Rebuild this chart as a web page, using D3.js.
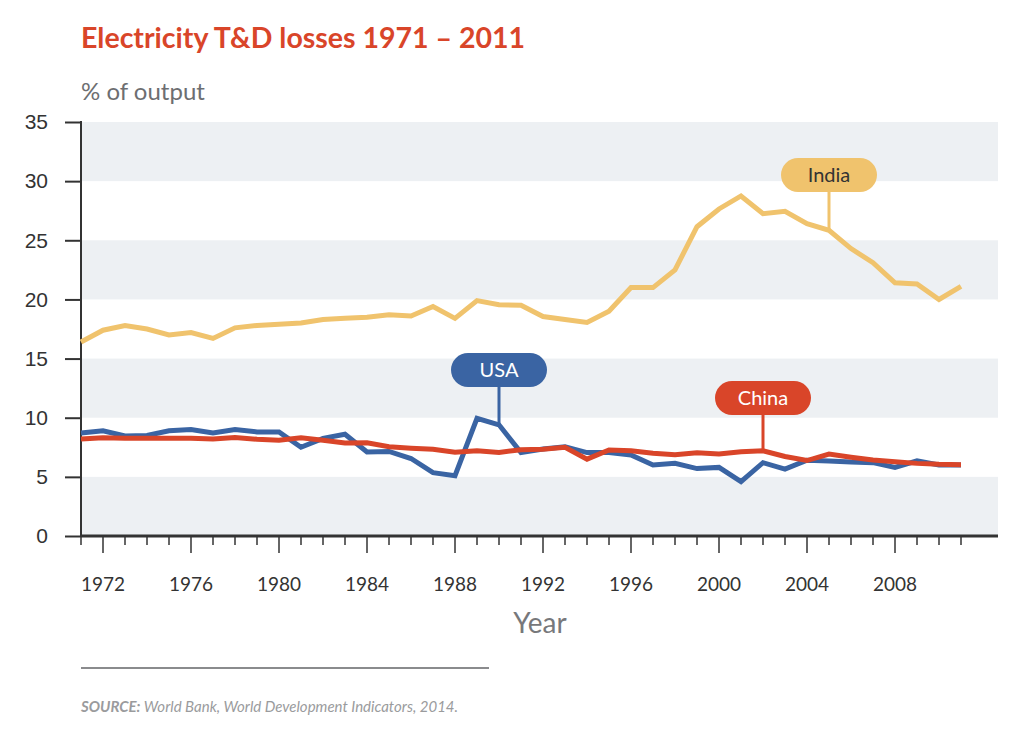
<!DOCTYPE html>
<html>
<head>
<meta charset="utf-8">
<script src="https://cdn.jsdelivr.net/npm/d3@7"></script>
<style>
  body { margin: 0; background: #fff; }
  svg { display: block; font-family: Lato, "Open Sans", sans-serif; }
</style>
</head>
<body>
<svg id="chart" width="1024" height="740"></svg>
<script>
// values, % of output
const years = d3.range(1971, 2012)

const india = [16.4, 17.4, 17.8, 17.5, 17.0, 17.2, 16.7, 17.6, 17.8, 17.9,
  18.0, 18.3, 18.4, 18.5, 18.7, 18.6, 19.4, 18.4, 19.9, 19.55,
  19.5, 18.55, 18.3, 18.05, 19.0, 21.0, 21.0, 22.5, 26.15, 27.65,
  28.75, 27.25, 27.45, 26.4, 25.85, 24.3, 23.1, 21.4, 21.3, 20.0, 21.1]

const usa = [8.7, 8.9, 8.45, 8.5, 8.9, 9.0, 8.7, 9.0, 8.8, 8.8,
  7.5, 8.25, 8.6, 7.1, 7.15, 6.55, 5.35, 5.1, 9.95, 9.4,
  7.05, 7.35, 7.55, 7.05, 7.05, 6.85, 6.0, 6.15, 5.7, 5.8,
  4.6, 6.2, 5.65, 6.4, 6.35, 6.25, 6.2, 5.8, 6.35, 6.0, 6.0]

const china = [8.2, 8.3, 8.27, 8.27, 8.27, 8.27, 8.2, 8.33, 8.17, 8.1,
  8.3, 8.1, 7.87, 7.88, 7.55, 7.42, 7.33, 7.08, 7.2, 7.07,
  7.3, 7.33, 7.5, 6.5, 7.27, 7.2, 7.0, 6.87, 7.04, 6.93,
  7.12, 7.2, 6.72, 6.38, 6.92, 6.65, 6.42, 6.28, 6.14, 6.06, 6.03]

const yTicks = [0, 5, 10, 15, 20, 25, 30, 35]
const xLabelYears = [1972, 1976, 1980, 1984, 1988, 1992, 1996, 2000, 2004, 2008]

const series = [
  { name: "India", values: india, color: "#f0c36d", text: "#333", callout: 2005, boxY: 158 },
  { name: "USA", values: usa, color: "#3a64a3", text: "#fff", callout: 1990, boxY: 353 },
  { name: "China", values: china, color: "#d94529", text: "#fff", callout: 2002, boxY: 381 }
]

const svg = d3.select("#chart")

const margin = { left: 81, top: 122, right: 26, bottom: 204 }
const width = 1024 - margin.left - margin.right
const height = 740 - margin.top - margin.bottom

// 22px per year, plot runs a bit past 2011
const x = d3.scaleLinear().domain([1971, 1971 + width / 22]).range([0, width])
const y = d3.scaleLinear().domain([0, 35]).range([height, 0])

const g = svg.append("g").attr("transform", "translate(" + margin.left + "," + margin.top + ")")

// alternating bands
const bands = [[0, 5], [10, 15], [20, 25], [30, 35]]
g.selectAll(".band")
  .data(bands)
  .enter().append("rect")
  .attr("class", "band")
  .attr("x", 0)
  .attr("width", width)
  .attr("y", d => y(d[1]))
  .attr("height", d => y(d[0]) - y(d[1]))
  .attr("fill", "#edf0f3")

// y axis
const yAxis = d3.axisLeft(y).tickValues(yTicks).tickSize(16).tickPadding(17)
const yg = g.append("g").call(yAxis)
yg.select(".domain").remove()
yg.selectAll(".tick line").attr("stroke", "#333").attr("stroke-width", 2)
yg.selectAll(".tick text").attr("fill", "#333").style("font-size", "21px")
g.append("line")
  .attr("x1", 0).attr("x2", 0)
  .attr("y1", -1).attr("y2", height + 1)
  .attr("stroke", "#333").attr("stroke-width", 2)

// x axis: minor tick each year, longer ones at labelled years
const xg = g.append("g").attr("transform", "translate(0," + height + ")")
xg.append("line")
  .attr("x1", 0).attr("x2", width)
  .attr("stroke", "#333").attr("stroke-width", 3)
xg.selectAll(".minor")
  .data(years)
  .enter().append("line")
  .attr("class", "minor")
  .attr("x1", d => x(d)).attr("x2", d => x(d))
  .attr("y1", 0).attr("y2", d => xLabelYears.includes(d) ? 17 : 9)
  .attr("stroke", "#333").attr("stroke-width", 1.5)
xg.selectAll(".lbl")
  .data(xLabelYears)
  .enter().append("text")
  .attr("class", "lbl")
  .attr("x", d => x(d))
  .attr("y", 55)
  .attr("text-anchor", "middle")
  .attr("fill", "#333")
  .style("font-size", "19px")
  .text(d => d)

// lines
const line = d3.line()
  .x((d, i) => x(years[i]))
  .y(d => y(d))

series.forEach(s => {
  g.append("path")
    .datum(s.values)
    .attr("fill", "none")
    .attr("stroke", s.color)
    .attr("stroke-width", 5)
    .attr("stroke-linejoin", "miter")
    .attr("d", line)
})

// the red line sits on top of the blue one in the picture
g.selectAll("path").filter((d, i) => i === 2).raise()

// callout pills
series.forEach(s => {
  const cx = x(s.callout)
  const val = s.values[years.indexOf(s.callout)]
  const top = s.boxY - margin.top
  const h = 34
  const w = 96
  g.append("line")
    .attr("x1", cx).attr("x2", cx)
    .attr("y1", top + h - 2).attr("y2", y(val))
    .attr("stroke", s.color).attr("stroke-width", 3)
  g.append("rect")
    .attr("x", cx - w / 2).attr("y", top)
    .attr("width", w).attr("height", h)
    .attr("rx", h / 2)
    .attr("fill", s.color)
  g.append("text")
    .attr("x", cx).attr("y", top + h / 2 + 7)
    .attr("text-anchor", "middle")
    .attr("fill", s.text)
    .style("font-size", "20px")
    .text(s.name)
})

// titles and notes
svg.append("text")
  .attr("x", 81).attr("y", 48)
  .attr("fill", "#d94529")
  .style("font-size", "28.5px").style("font-weight", "bold")
  .text("Electricity T&D losses 1971 – 2011")

svg.append("text")
  .attr("x", 81).attr("y", 100)
  .attr("fill", "#6d6e71")
  .style("font-size", "24px")
  .text("% of output")

svg.append("text")
  .attr("x", 540).attr("y", 633)
  .attr("text-anchor", "middle")
  .attr("fill", "#77787b")
  .style("font-size", "28px")
  .text("Year")

svg.append("line")
  .attr("x1", 81).attr("x2", 489)
  .attr("y1", 668).attr("y2", 668)
  .attr("stroke", "#8a8b8d").attr("stroke-width", 2)

const src = svg.append("text")
  .attr("x", 81).attr("y", 712)
  .attr("fill", "#9a9b9d")
  .style("font-size", "15px").style("font-style", "italic")
src.append("tspan").style("font-weight", "bold").text("SOURCE:")
src.append("tspan").text(" World Bank, World Development Indicators, 2014.")
</script>
</body>
</html>
